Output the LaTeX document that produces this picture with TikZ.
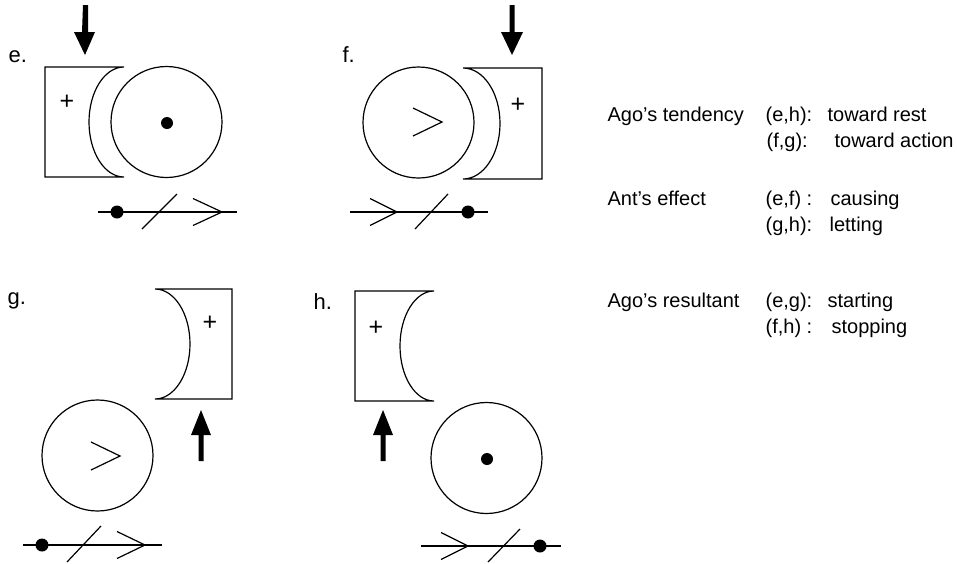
\documentclass[tikz,border=0pt]{standalone}
\usepackage{fontspec}
\setmainfont{Liberation Sans}
\begin{document}
\begin{tikzpicture}[x=1pt,y=-1pt,line width=1.2pt,
  txt/.style={inner sep=0pt,anchor=base west,font=\fontsize{20}{24}\selectfont},
  lbl/.style={inner sep=0pt,anchor=base west,font=\fontsize{22}{26}\selectfont},
  plus/.style={inner sep=0pt,font=\fontsize{25}{28}\selectfont},
  wheel/.style={circle,draw,minimum size=111pt,inner sep=0pt},
  bigarrow/.style={fill=black,draw=none}]
\useasboundingbox (0,0) rectangle (957,563);

% ---------- panel e ----------
\node[lbl] (le) at (8,62) {e.};
\fill[bigarrow] (83,5) -- (88,5) -- (88,32) -- (95,32) -- (85,55) -- (74,32) -- (82,32) -- cycle;
\draw (124,67) -- (45,67) -- (45,177) -- (124,177) arc[start angle=90,end angle=270,x radius=35,y radius=55];
\node[plus] (pe) at (67,102) {+};
\node[wheel] (we) at (166.5,122) {};
\fill (167,123) circle (6);
\draw (98,212) -- (237,212);
\fill (117,212) circle (6.5);
\draw (142,229) -- (177,194);
\draw (193,198.5) -- (222,212) -- (193,225.5);

% ---------- panel f ----------
\node[lbl] (lf) at (342,62) {f.};
\fill[bigarrow] (509.5,5) -- (514.5,5) -- (514.5,32) -- (523,32) -- (512,55) -- (501,32) -- (509.5,32) -- cycle;
\draw (463,68) -- (542,68) -- (542,179) -- (463,179) arc[start angle=90,end angle=-90,x radius=37,y radius=55.5];
\node[plus] (pf) at (518,105) {+};
\node[wheel] (wf) at (418.5,122.5) {};
\draw (413,108) -- (442,122) -- (413,136);
\draw (350,212) -- (488,212);
\draw (370,198.5) -- (397,212) -- (370,225.5);
\draw (415,229) -- (448,194);
\fill (468,212) circle (6.5);

% ---------- panel g ----------
\node[lbl] (lg) at (7,304) {g.};
\draw (155,289) -- (232,289) -- (232,399) -- (155,399) arc[start angle=90,end angle=-90,x radius=35,y radius=55];
\node[plus] (pg) at (210,323) {+};
\fill[bigarrow] (198.5,461) -- (203.5,461) -- (203.5,435) -- (211,435) -- (201,410) -- (191,435) -- (198.5,435) -- cycle;
\node[wheel] (wg) at (97.5,455.5) {};
\draw (91,442) -- (120,456) -- (91,470);
\draw (23,545) -- (162,545);
\fill (42,545) circle (6.5);
\draw (67,562) -- (101,526);
\draw (117,531.5) -- (145,545) -- (117,558.5);

% ---------- panel h ----------
\node[lbl] (lh) at (313,309) {h.};
\draw (434,291) -- (355,291) -- (355,401) -- (434,401) arc[start angle=90,end angle=270,x radius=34,y radius=55];
\node[plus] (ph) at (376,328) {+};
\fill[bigarrow] (380.5,461) -- (385.5,461) -- (385.5,435) -- (393,435) -- (383,410) -- (373,435) -- (380.5,435) -- cycle;
\node[wheel] (wh) at (486.5,458) {};
\fill (487,459) circle (6);
\draw (421,546) -- (561,546);
\draw (441,532.5) -- (468,546) -- (441,559.5);
\draw (488,562) -- (520,529);
\fill (540,546) circle (6.5);

% ---------- legend ----------
\node[txt] (t1) at (607,121) {Ago\char39 s tendency};
\node[txt] (t1a) at (765,121) {(e,h):};
\node[txt] (t1b) at (827,121) {toward rest};
\node[txt] (t2a) at (766,147) {(f,g):};
\node[txt] (t2b) at (834,147) {toward action};

\node[txt] (t3) at (607,205) {Ant’s effect};
\node[txt] (t3a) at (765,205) {(e,f) :};
\node[txt] (t3b) at (830,205) {causing};
\node[txt] (t4a) at (765,231) {(g,h):};
\node[txt] (t4b) at (829,231) {letting};

\node[txt] (t5) at (607,307) {Ago\char39 s resultant};
\node[txt] (t5a) at (765,307) {(e,g):};
\node[txt] (t5b) at (827,307) {starting};
\node[txt] (t6a) at (765,333) {(f,h) :};
\node[txt] (t6b) at (831,333) {stopping};
\end{tikzpicture}
\end{document}
